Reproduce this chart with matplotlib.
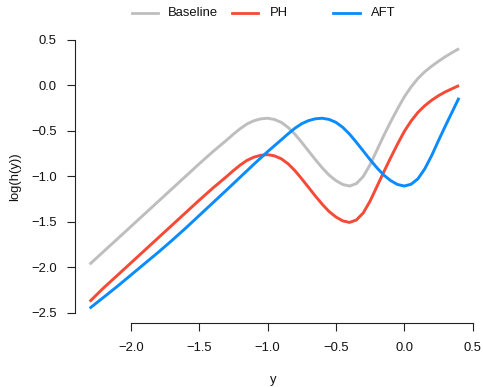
import matplotlib
matplotlib.use("Agg")
import matplotlib.pyplot as plt
from matplotlib.lines import Line2D

plt.rcParams['font.family'] = ['Liberation Sans', 'DejaVu Sans']
plt.rcParams['axes.unicode_minus'] = True

# ---- data ----
x_base = [-2.3, -2.2, -2.1, -2.0, -1.9, -1.8, -1.7, -1.6, -1.5, -1.4,
          -1.3, -1.25, -1.2, -1.15, -1.1, -1.05, -1.0, -0.95, -0.9, -0.85,
          -0.8, -0.75, -0.7, -0.65, -0.6, -0.55, -0.5, -0.45, -0.4, -0.35,
          -0.3, -0.25, -0.2, -0.15, -0.1, -0.05, 0.0, 0.05, 0.1, 0.15,
          0.2, 0.25, 0.3, 0.35, 0.4]
baseline = [-1.965, -1.827, -1.69, -1.552, -1.414, -1.276, -1.138, -1.0, -0.862, -0.728,
            -0.602, -0.536, -0.475, -0.423, -0.388, -0.367, -0.36, -0.373, -0.405, -0.46,
            -0.535, -0.625, -0.72, -0.815, -0.905, -0.985, -1.045, -1.088, -1.105, -1.078,
            -1.0, -0.87, -0.71, -0.55, -0.40, -0.258, -0.125, -0.015, 0.078, 0.152,
            0.212, 0.266, 0.317, 0.362, 0.405]
ph = [-2.375, -2.227, -2.09, -1.952, -1.814, -1.676, -1.538, -1.40, -1.262, -1.128,
      -1.002, -0.936, -0.875, -0.823, -0.788, -0.767, -0.76, -0.773, -0.805, -0.86,
      -0.935, -1.025, -1.12, -1.215, -1.305, -1.385, -1.445, -1.488, -1.505, -1.478,
      -1.40, -1.27, -1.11, -0.95, -0.795, -0.645, -0.505, -0.39, -0.295, -0.222,
      -0.162, -0.112, -0.07, -0.035, 0.0]
aft = [-2.449, -2.33, -2.21, -2.085, -1.96, -1.835, -1.705, -1.57, -1.43, -1.29,
       -1.15, -1.079, -1.008, -0.937, -0.866, -0.797, -0.728, -0.663, -0.598, -0.532,
       -0.47, -0.42, -0.386, -0.366, -0.36, -0.373, -0.405, -0.46, -0.535, -0.625,
       -0.72, -0.815, -0.905, -0.985, -1.045, -1.088, -1.105, -1.085, -1.025, -0.915,
       -0.77, -0.605, -0.445, -0.29, -0.135]

series_names = ["Baseline", "PH", "AFT"]
series_colors = ["#BEBEBE", "#F44A36", "#0A8BFF"]
xticks = [-2.0, -1.5, -1.0, -0.5, 0.0, 0.5]
yticks = [0.5, 0.0, -0.5, -1.0, -1.5, -2.0, -2.5]

W, H = 483, 387
fig = plt.figure(figsize=(W / 100, H / 100), dpi=100)
left, right, top, bottom = 74.9, 473.8, 37.8, 318.7
ax = fig.add_axes([left / W, 1 - bottom / H, (right - left) / W, (bottom - top) / H])

for ys, c in zip([baseline, ph, aft], series_colors):
    ax.plot(x_base, ys, color=c, lw=2.1, solid_capstyle='butt', solid_joinstyle='round')

ax.set_xlim(-2.408, 0.508)
ax.set_ylim(-2.563, 0.524)

for s in ['top', 'right']:
    ax.spines[s].set_visible(False)
ax.spines['left'].set_bounds(-2.5, 0.5)
ax.spines['bottom'].set_bounds(-2.0, 0.5)
ax.spines['bottom'].set_position(('outward', 3))
for s in ['left', 'bottom']:
    ax.spines[s].set_linewidth(0.8)
    ax.spines[s].set_color('#222222')

ax.set_xticks(xticks)
ax.set_yticks(yticks)
ax.set_xticklabels([f"{v:.1f}".replace("-", "\u2212") for v in xticks])
ax.set_yticklabels([f"{v:.1f}".replace("-", "\u2212") for v in yticks])
ax.tick_params(axis='both', direction='out', length=6, width=0.8, color='#222222',
               labelsize=9.4, labelcolor='#111111')
ax.tick_params(axis='x', pad=8)
ax.tick_params(axis='y', pad=7)

fig.text(15 / W, 1 - 177 / H, "log(h(y))", rotation=90, ha='center', va='center',
         fontsize=9.4, color='#111111')
fig.text(273 / W, 1 - 380 / H, "y", ha='center', va='center', fontsize=9.4, color='#111111')

# legend (manual, as in the reference)
leg_y = 1 - 13 / H
line_x = [(131.5, 157.5), (232, 258), (333, 360)]
text_x = [168, 270, 371]
for (x0, x1), tx, name, c in zip(line_x, text_x, series_names, series_colors):
    fig.add_artist(Line2D([x0 / W, x1 / W], [leg_y, leg_y], color=c, lw=2.0,
                          transform=fig.transFigure))
    fig.text(tx / W, leg_y, name, ha='left', va='center', fontsize=9.4, color='#111111')

fig.savefig("out.png", dpi=100)
